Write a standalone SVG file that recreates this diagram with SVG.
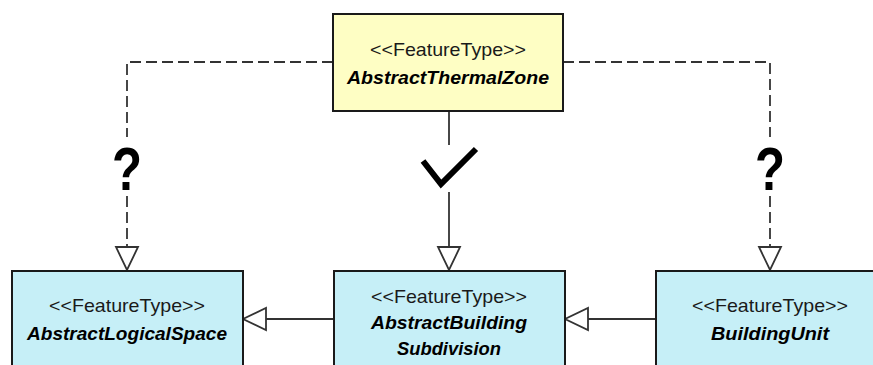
<svg xmlns="http://www.w3.org/2000/svg" width="873" height="365" viewBox="0 0 873 365">
<style>
.box{stroke:#1a1a1a;stroke-width:2}
.yel{fill:#fefec4}
.cyan{fill:#c6eff7}
.st{font-family:"Liberation Sans",Arial,sans-serif;font-size:19px;fill:#1a1a1a;text-anchor:middle}
.nm{font-family:"Liberation Sans",Arial,sans-serif;font-size:19px;font-weight:bold;font-style:italic;fill:#000;text-anchor:middle}
.ln{stroke:#333;stroke-width:1.8;fill:none}
.dash{stroke-dasharray:11 5}
.tri{fill:#fff;stroke:#333;stroke-width:1.8}
.q{font-family:"Liberation Sans",Arial,sans-serif;font-size:62px;font-weight:bold;fill:#000;text-anchor:middle}
</style>
<rect width="873" height="365" fill="#fff"/>
<g id="connectors">
  <polyline class="ln dash" points="333,62 127,62 127,137"/>
  <line class="ln dash" x1="127" y1="196" x2="127" y2="247"/>
  <polyline class="ln dash" points="563,62 770,62 770,137"/>
  <line class="ln dash" x1="770" y1="196" x2="770" y2="247"/>
  <line class="ln" x1="449" y1="111" x2="449" y2="145"/>
  <line class="ln" x1="449" y1="192" x2="449" y2="247"/>
  <polygon class="tri" points="116,247 138,247 127,270"/>
  <polygon class="tri" points="438,247 460,247 449,270"/>
  <polygon class="tri" points="759,247 781,247 770,270"/>
  <line class="ln" x1="266" y1="319" x2="333" y2="319"/>
  <polygon class="tri" points="266,308 266,330 243,319"/>
  <line class="ln" x1="588" y1="319" x2="656" y2="319"/>
  <polygon class="tri" points="588,308 588,330 565,319"/>
  <text class="q" x="127" y="190" textLength="30" lengthAdjust="spacingAndGlyphs">?</text>
  <text class="q" x="770" y="190" textLength="30" lengthAdjust="spacingAndGlyphs">?</text>
  <polyline points="423,161 441,184 476,149" fill="none" stroke="#000" stroke-width="6"/>
</g>
<g id="AbstractThermalZone">
  <rect class="box yel" x="333" y="14" width="230" height="97"/>
  <text class="st" x="448" y="56" textLength="156" lengthAdjust="spacingAndGlyphs">&lt;&lt;FeatureType&gt;&gt;</text>
  <text class="nm" x="448" y="84" textLength="202" lengthAdjust="spacingAndGlyphs">AbstractThermalZone</text>
</g>
<g id="AbstractLogicalSpace">
  <rect class="box cyan" x="12" y="271" width="231" height="110"/>
  <text class="st" x="127" y="312" textLength="156" lengthAdjust="spacingAndGlyphs">&lt;&lt;FeatureType&gt;&gt;</text>
  <text class="nm" x="127" y="340" textLength="200" lengthAdjust="spacingAndGlyphs">AbstractLogicalSpace</text>
</g>
<g id="AbstractBuildingSubdivision">
  <rect class="box cyan" x="334" y="271" width="231" height="110"/>
  <text class="st" x="449" y="303" textLength="156" lengthAdjust="spacingAndGlyphs">&lt;&lt;FeatureType&gt;&gt;</text>
  <text class="nm" x="449" y="329" textLength="156" lengthAdjust="spacingAndGlyphs">AbstractBuilding</text>
  <text class="nm" x="449" y="355" textLength="104" lengthAdjust="spacingAndGlyphs">Subdivision</text>
</g>
<g id="BuildingUnit">
  <rect class="box cyan" x="656" y="271" width="231" height="110"/>
  <text class="st" x="770" y="312" textLength="156" lengthAdjust="spacingAndGlyphs">&lt;&lt;FeatureType&gt;&gt;</text>
  <text class="nm" x="770" y="340" textLength="118" lengthAdjust="spacingAndGlyphs">BuildingUnit</text>
</g>
</svg>
